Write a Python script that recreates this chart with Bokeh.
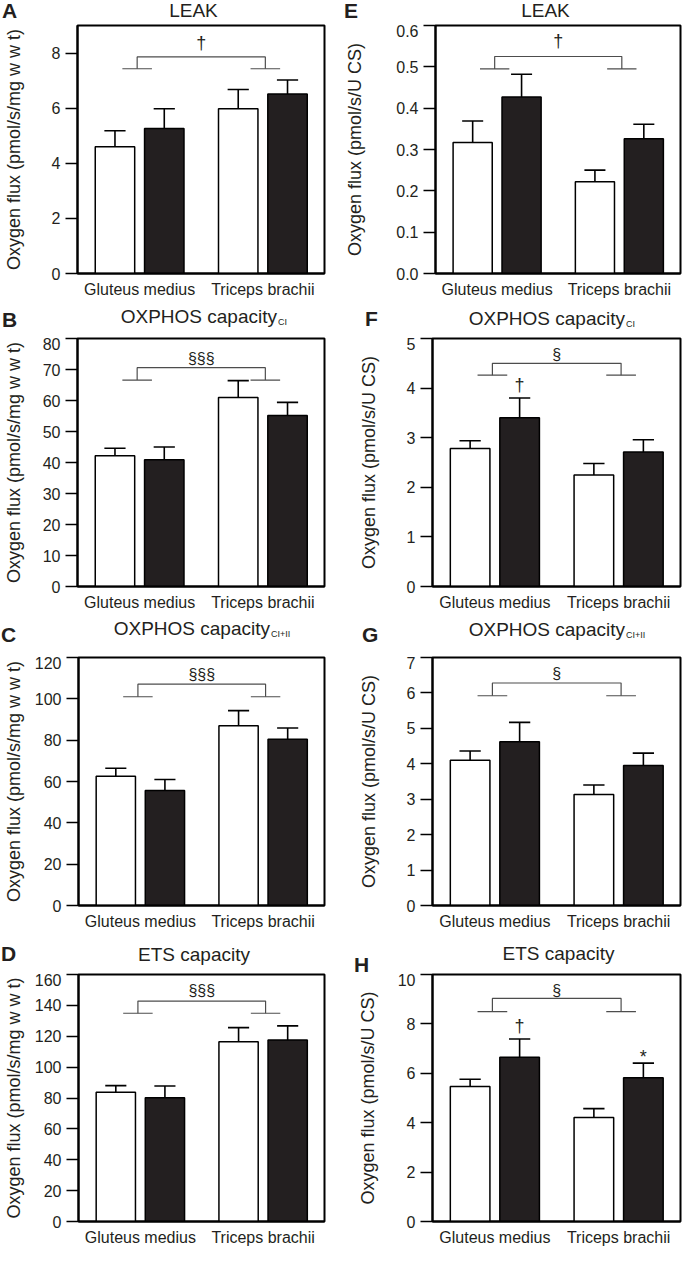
from bokeh.plotting import figure
from bokeh.layouts import column, row
from bokeh.models import Range1d, FixedTicker, NumeralTickFormatter, Div
from bokeh.core.properties import value
from bokeh.embed import file_html
from bokeh.resources import INLINE

# ---------------- data ----------------
muscles = ["Gluteus medius", "Triceps brachii"]
conditions = ["open", "filled"]          # two groups per muscle (white / black bars)

leak_wt_mean = [4.60, 5.26, 5.98, 6.51]
leak_wt_se = [0.58, 0.72, 0.70, 0.51]
oxci_wt_mean = [42.2, 40.9, 61.0, 55.2]
oxci_wt_se = [2.4, 4.1, 5.4, 4.2]
oxcii_wt_mean = [62.6, 55.6, 87.0, 80.4]
oxcii_wt_se = [3.8, 5.4, 7.3, 5.5]
ets_wt_mean = [83.8, 80.1, 116.4, 117.5]
ets_wt_se = [4.2, 7.7, 9.2, 9.2]

leak_cs_mean = [0.317, 0.427, 0.222, 0.326]
leak_cs_se = [0.052, 0.055, 0.028, 0.035]
oxci_cs_mean = [2.78, 3.40, 2.25, 2.71]
oxci_cs_se = [0.16, 0.40, 0.23, 0.25]
oxcii_cs_mean = [4.10, 4.62, 3.13, 3.95]
oxcii_cs_se = [0.26, 0.55, 0.27, 0.35]
ets_cs_mean = [5.47, 6.65, 4.21, 5.82]
ets_cs_se = [0.29, 0.74, 0.36, 0.59]

ticks_A = [0, 2, 4, 6, 8]
ticks_B = [0, 10, 20, 30, 40, 50, 60, 70, 80]
ticks_C = [0, 20, 40, 60, 80, 100, 120]
ticks_D = [0, 20, 40, 60, 80, 100, 120, 140, 160]
ticks_E = [0.0, 0.1, 0.2, 0.3, 0.4, 0.5, 0.6]
ticks_F = [0, 1, 2, 3, 4, 5]
ticks_G = [0, 1, 2, 3, 4, 5, 6, 7]
ticks_H = [0, 2, 4, 6, 8, 10]

ylabel_wt = "Oxygen flux (pmol/s/mg w w t)"
ylabel_cs = "Oxygen flux (pmol/s/U CS)"

# ---------------- styles / layout ----------------
FONT = "Liberation Sans"
INK = "#231f20"
FH = 248
FW = [251, 248]
BL = [73, 90]
BR = [18, 2]
HDR = [24, 37, 43, 41]        # header (title strip) heights per row
BB = [27, 27, 27, 26]
XR = (0.24, 5.25)
BAR_W = 0.8
CAP_HW = 0.215
BR_DX = [-0.05, 0.05]
BR_HW = 0.3
ASC = 0.8465                  # baseline offset (em) for line-height:1

panels = [
    dict(key="A", col=0, row=0, mean=leak_wt_mean, se=leak_wt_se, ymax=9, ticks=ticks_A, fmt="0",
         ylabel=ylabel_wt, title="LEAK", sub=None, br=(7.86, 7.43), sym="\u2020", sym_y=8.37, extra=[],
         letter=(-71, 7), tpos=(-5, 8), ystand=25),
    dict(key="B", col=0, row=1, mean=oxci_wt_mean, se=oxci_wt_se, ymax=80, ticks=ticks_B, fmt="0",
         ylabel=ylabel_wt, title="OXPHOS capacity", sub="CI", br=(70.6, 66.6), sym="\u00a7\u00a7\u00a7",
         sym_y=73.6, extra=[], letter=(-71, 11), tpos=(204, 15), ystand=16),
    dict(key="C", col=0, row=2, mean=oxcii_wt_mean, se=oxcii_wt_se, ymax=120, ticks=ticks_C, fmt="0",
         ylabel=ylabel_wt, title="OXPHOS capacity", sub="CI+II", br=(107.1, 101.0), sym="\u00a7\u00a7\u00a7",
         sym_y=111.6, extra=[], letter=(-72, 15), tpos=(197, 22), ystand=8),
    dict(key="D", col=0, row=3, mean=ets_wt_mean, se=ets_wt_se, ymax=160, ticks=ticks_D, fmt="0",
         ylabel=ylabel_wt, title="ETS capacity", sub=None, br=(142.8, 134.9), sym="\u00a7\u00a7\u00a7",
         sym_y=149.4, extra=[], letter=(-72, 13), tpos=(-4.5, 13), ystand=8),
    dict(key="E", col=1, row=0, mean=leak_cs_mean, se=leak_cs_se, ymax=0.6, ticks=ticks_E, fmt="0.0",
         ylabel=ylabel_cs, title="LEAK", sub=None, br=(0.525, 0.495), sym="\u2020", sym_y=0.562, extra=[],
         letter=(-88, 7), tpos=(-10.5, 8), ystand=28),
    dict(key="F", col=1, row=1, mean=oxci_cs_mean, se=oxci_cs_se, ymax=5, ticks=ticks_F, fmt="0",
         ylabel=ylabel_cs, title="OXPHOS capacity", sub="CI", br=(4.50, 4.26), sym="\u00a7", sym_y=4.68,
         extra=[(1, "\u2020", 4.06)], letter=(-67, 12), tpos=(193, 13), ystand=25),
    dict(key="G", col=1, row=2, mean=oxcii_cs_mean, se=oxcii_cs_se, ymax=7, ticks=ticks_G, fmt="0",
         ylabel=ylabel_cs, title="OXPHOS capacity", sub="CI+II", br=(6.28, 5.92), sym="\u00a7", sym_y=6.56,
         extra=[], letter=(-70, 15), tpos=(193, 21), ystand=25),
    dict(key="H", col=1, row=3, mean=ets_cs_mean, se=ets_cs_se, ymax=10, ticks=ticks_H, fmt="0",
         ylabel=ylabel_cs, title="ETS capacity", sub=None, br=(9.03, 8.50), sym="\u00a7", sym_y=9.36,
         extra=[(1, "\u2020", 7.92), (3, "*", 6.65)], letter=(-78, 2), tpos=(2.5, 14), ystand=17),
]


def header(cfg):
    col, rw = cfg["col"], cfg["row"]
    w = BL[col] + FW[col] + BR[col]
    h = HDR[rw]
    ftop = h + 1
    base = ("position:absolute;white-space:nowrap;line-height:1;margin:0;padding:0;"
            "font-family:'Liberation Sans',Arial,sans-serif;color:%s;" % INK)
    parts = []
    dx, lb = cfg["letter"]
    fs = 21
    parts.append('<div style="%sleft:%.1fpx;top:%.1fpx;font-size:%dpx;font-weight:bold;">%s</div>'
                 % (base, BL[col] + dx, max(0.0, ftop - lb - ASC * fs), fs, cfg["key"]))
    tx, tb = cfg["tpos"]
    fs = 19
    if cfg["sub"] is None:
        cx = BL[col] + FW[col] / 2 + tx
        parts.append('<div style="%sleft:%.1fpx;width:300px;text-align:center;top:%.1fpx;font-size:%dpx;">%s</div>'
                     % (base, cx - 150, max(0.0, ftop - tb - ASC * fs), fs, cfg["title"]))
    else:
        jx = BL[col] + tx
        parts.append('<div style="%sright:%.1fpx;top:%.1fpx;font-size:%dpx;">%s</div>'
                     % (base, w - jx, ftop - tb - ASC * fs, fs, cfg["title"]))
        fss = 9
        parts.append('<div style="%sleft:%.1fpx;top:%.1fpx;font-size:%dpx;">%s</div>'
                     % (base, jx + 1, ftop - (tb - 3) - ASC * fss, fss, cfg["sub"]))
    html = ('<div style="position:relative;width:%dpx;height:%dpx;overflow:visible;">' % (w, h)
            + "".join(parts) + "</div>")
    return Div(text=html, width=w, height=h, margin=0)


def make_panel(cfg):
    col, rw = cfg["col"], cfg["row"]
    w = BL[col] + FW[col] + BR[col]
    h = 1 + FH + BB[rw]
    p = figure(width=w, height=h, x_range=Range1d(*XR), y_range=Range1d(0, cfg["ymax"]),
               output_backend="svg", toolbar_location=None, title=None,
               min_border_left=BL[col], min_border_right=BR[col],
               min_border_top=1, min_border_bottom=BB[rw])
    p.background_fill_color = "white"
    p.border_fill_color = "white"
    p.xgrid.visible = False
    p.ygrid.visible = False
    p.outline_line_color = "black"
    p.outline_line_width = 2
    p.outline_line_alpha = 1

    xs = [g * 2.5 + s + 1 for g in range(len(muscles)) for s in range(len(conditions))]
    centers = [sum(xs[2 * g:2 * g + 2]) / 2 for g in range(len(muscles))]
    fills = ["white" if s == 0 else INK for g in range(len(muscles)) for s in range(len(conditions))]
    mean, se = cfg["mean"], cfg["se"]
    tops = [m + e for m, e in zip(mean, se)]

    p.vbar(x=xs, top=mean, bottom=0, width=BAR_W, fill_color=fills, line_color="black", line_width=1.5)
    p.segment(x0=xs, y0=mean, x1=xs, y1=tops, line_color="black", line_width=1.6)
    p.segment(x0=[x - CAP_HW for x in xs], y0=tops, x1=[x + CAP_HW for x in xs], y1=tops,
              line_color="black", line_width=1.6)

    yt, yl = cfg["br"]
    xl = centers[0] + BR_DX[0]
    xr = centers[1] + BR_DX[1]
    p.multi_line(xs=[[xl, xl, xr, xr], [xl - BR_HW, xl + BR_HW], [xr - BR_HW, xr + BR_HW]],
                 ys=[[yl, yt, yt, yl], [yl, yl], [yl, yl]], line_color="#4d4d4d", line_width=1.2)
    sym_size = "18px" if cfg["sym"] == "\u2020" else "16px"
    p.text(x=[(xl + xr) / 2], y=[cfg["sym_y"]], text=[cfg["sym"]], text_font=value(FONT),
           text_font_size=value(sym_size), text_align="center", text_baseline="middle", text_color=INK)
    for bi, t, yy in cfg["extra"]:
        p.text(x=[xs[bi]], y=[yy], text=[t], text_font=value(FONT), text_font_size=value("18px"),
               text_align="center", text_baseline="middle", text_color=INK)

    xa = p.xaxis[0]
    xa.ticker = FixedTicker(ticks=centers)
    xa.major_label_overrides = {c: m for c, m in zip(centers, muscles)}
    xa.major_tick_line_color = None
    xa.major_tick_out = 0
    xa.major_tick_in = 0
    xa.minor_tick_line_color = None
    xa.axis_line_width = 2
    xa.major_label_standoff = 7
    xa.major_label_text_font = FONT
    xa.major_label_text_font_size = "16px"
    xa.major_label_text_color = INK

    ya = p.yaxis[0]
    ya.ticker = FixedTicker(ticks=cfg["ticks"])
    ya.formatter = NumeralTickFormatter(format=cfg["fmt"])
    ya.major_tick_out = 12
    ya.major_tick_in = 0
    ya.major_tick_line_width = 1.6
    ya.minor_tick_line_color = None
    ya.axis_line_width = 2
    ya.major_label_standoff = 5
    ya.major_label_text_font = FONT
    ya.major_label_text_font_size = "16px"
    ya.major_label_text_color = INK
    ya.axis_label = cfg["ylabel"]
    ya.axis_label_text_font = FONT
    ya.axis_label_text_font_size = "18px"
    ya.axis_label_text_font_style = "normal"
    ya.axis_label_text_color = INK
    ya.axis_label_standoff = cfg["ystand"]
    return p


cells = {}
for cfg in panels:
    cells[cfg["key"]] = column(header(cfg), make_panel(cfg), spacing=0)

layout = column(
    row(cells["A"], cells["E"], spacing=0),
    row(cells["B"], cells["F"], spacing=0),
    row(cells["C"], cells["G"], spacing=0),
    row(cells["D"], cells["H"], spacing=0),
    spacing=0,
)

open("out.html", "w").write(file_html(layout, INLINE))
